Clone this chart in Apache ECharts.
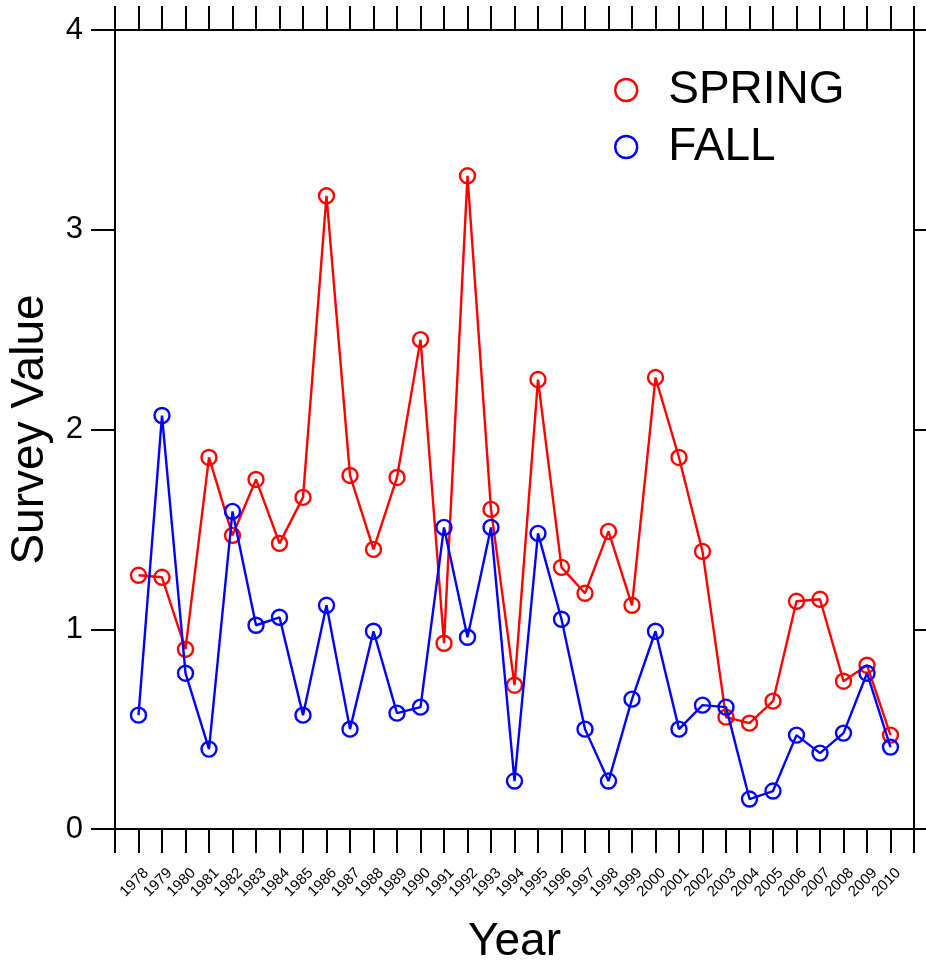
<!DOCTYPE html>
<html>
<head>
<meta charset="utf-8">
<script src="https://cdn.jsdelivr.net/npm/echarts@6/dist/echarts.min.js"></script>
<style>
html,body{margin:0;padding:0;background:#fff;}
#chart{width:926px;height:968px;}
</style>
</head>
<body>
<div id="chart"></div>
<script>
const years = [1978,1979,1980,1981,1982,1983,1984,1985,1986,1987,1988,1989,1990,1991,1992,1993,1994,1995,1996,1997,1998,1999,2000,2001,2002,2003,2004,2005,2006,2007,2008,2009,2010];
const spring = [1.27,1.26,0.90,1.86,1.47,1.75,1.43,1.66,3.17,1.77,1.40,1.76,2.45,0.93,3.27,1.60,0.72,2.25,1.31,1.18,1.49,1.12,2.26,1.86,1.39,0.56,0.53,0.64,1.14,1.15,0.74,0.82,0.47];
const fall = [0.57,2.07,0.78,0.40,1.59,1.02,1.06,0.57,1.12,0.50,0.99,0.58,0.61,1.51,0.96,1.51,0.24,1.48,1.05,0.50,0.24,0.65,0.99,0.50,0.62,0.61,0.15,0.19,0.47,0.38,0.48,0.78,0.41];
const yTicks = [0,1,2,3,4];

const FONT = '"Liberation Sans", Arial, Helvetica, sans-serif';
const chart = echarts.init(document.getElementById('chart'), null, {renderer:'canvas'});

function mk(name, vals, color){
  return {
    name: name,
    type: 'line',
    xAxisIndex: 0, yAxisIndex: 0,
    data: years.map((y,i)=>[y, vals[i]]),
    symbol: 'circle',
    symbolSize: 15,
    showAllSymbol: true,
    lineStyle: {color: color, width: 2.4},
    itemStyle: {color: 'rgba(0,0,0,0)', borderColor: color, borderWidth: 2.4},
    emphasis: {disabled: true},
    z: name === 'FALL' ? 3 : 2
  };
}

const axisLine = {show: true, onZero: false, lineStyle: {color: '#000', width: 2}};
const tick = {show: true, inside: false, length: 24, lineStyle: {color: '#000', width: 2}};

chart.setOption({
  animation: false,
  backgroundColor: '#fff',
  grid: {left: 115, right: 12, top: 30, bottom: 139, containLabel: false, outerBoundsMode: 'none'},
  legend: {
    orient: 'vertical',
    left: 614, top: 67,
    padding: 0,
    itemWidth: 22, itemHeight: 22,
    itemGap: 11,
    icon: 'circle',
    textStyle: {fontFamily: FONT, fontSize: 46, color: '#000', padding: [0,0,0,26]},
    data: [
      {name: 'SPRING', itemStyle: {color: 'rgba(0,0,0,0)', borderColor: '#ff0000', borderWidth: 2.4}},
      {name: 'FALL', itemStyle: {color: 'rgba(0,0,0,0)', borderColor: '#0000ff', borderWidth: 2.4}}
    ]
  },
  xAxis: [
    {
      type: 'value', position: 'bottom', min: 1977, max: 2011, interval: 1,
      axisLine: axisLine, axisTick: tick, splitLine: {show: false},
      axisLabel: {
        show: true, rotate: 45, margin: 34, fontFamily: FONT, fontSize: 15, color: '#000',
        verticalAlign: 'top', lineHeight: 22,
        formatter: v => (years.indexOf(v) >= 0 ? String(v) : '')
      },
      name: 'Year', nameLocation: 'middle', nameGap: 90,
      nameTextStyle: {fontFamily: FONT, fontSize: 46, color: '#000'}
    },
    {
      type: 'value', position: 'top', min: 1977, max: 2011, interval: 1,
      axisLine: axisLine, axisTick: tick, splitLine: {show: false},
      axisLabel: {show: false}
    }
  ],
  yAxis: [
    {
      type: 'value', position: 'left', min: 0, max: 4, interval: 1,
      axisLine: axisLine, axisTick: tick, splitLine: {show: false},
      axisLabel: {show: true, margin: 32, fontFamily: FONT, fontSize: 31, color: '#000',
        formatter: v => (yTicks.indexOf(v) >= 0 ? String(v) : '')},
      name: 'Survey Value', nameLocation: 'middle', nameGap: 62, nameRotate: 90,
      nameTextStyle: {fontFamily: FONT, fontSize: 46, color: '#000'}
    },
    {
      type: 'value', position: 'right', min: 0, max: 4, interval: 1,
      axisLine: axisLine, axisTick: tick, splitLine: {show: false},
      axisLabel: {show: false}
    }
  ],
  series: [mk('SPRING', spring, '#ff0000'), mk('FALL', fall, '#0000ff')]
});
</script>
</body>
</html>
